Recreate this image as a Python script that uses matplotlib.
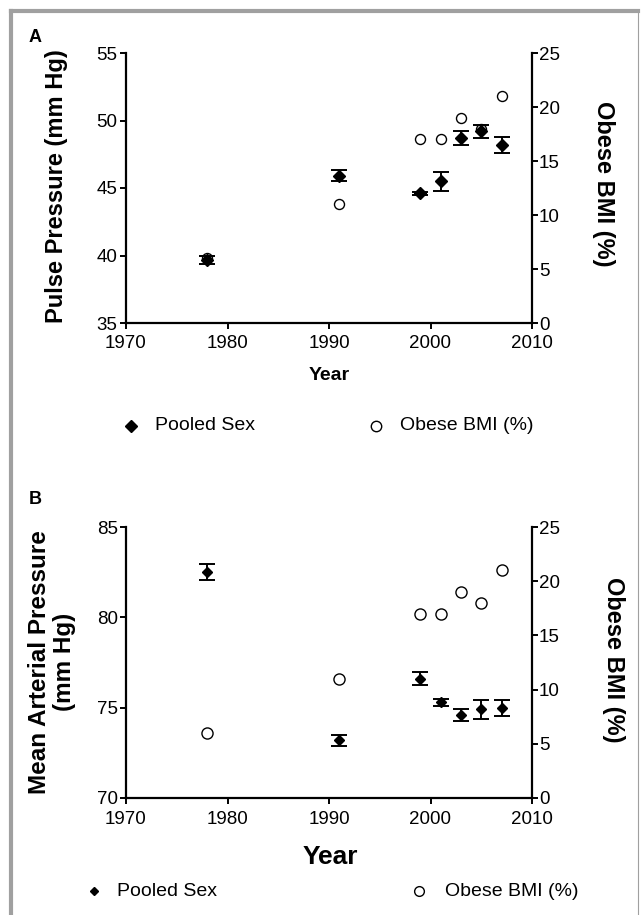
import numpy as np
import matplotlib
matplotlib.use("Agg")
from matplotlib import pyplot as plt
from matplotlib.lines import Line2D

plt.rcParams['font.family'] = ['Liberation Sans', 'DejaVu Sans']

# survey years
years = [1978, 1991, 1999, 2001, 2003, 2005, 2007]

# panel A: pulse pressure, pooled sex (mean, sem)
pp = [39.7, 45.9, 44.6, 45.5, 48.7, 49.2, 48.2]
pp_err = [0.3, 0.4, 0.1, 0.7, 0.55, 0.5, 0.6]

# panel B: mean arterial pressure, pooled sex (mean, sem)
map_ = [82.5, 73.2, 76.6, 75.3, 74.6, 74.9, 75.0]
map_err = [0.45, 0.3, 0.35, 0.2, 0.35, 0.5, 0.45]

# obese BMI prevalence (%)
obese = [6, 11, 17, 17, 19, 18, 21]

W, H = 641, 915
fig = plt.figure(figsize=(W / 100, H / 100), dpi=100)


def fx(px):
    return px / W


def fy(py):
    return 1 - py / H


def style(ax, side):
    for s in ['top', 'right', 'left', 'bottom']:
        ax.spines[s].set_visible(False)
    ax.spines[side].set_visible(True)
    ax.spines[side].set_linewidth(1.6)
    ax.tick_params(axis='y', direction='out', length=4, width=1.4,
                   labelsize=13.5, pad=2)


def panel(top, bottom, yvals, yerr, ylim, yticks, dsize, csize, cap):
    ax = fig.add_axes([fx(126), fy(bottom), fx(532) - fx(126), fy(top) - fy(bottom)])
    ax2 = ax.twinx()
    ax.set_zorder(ax2.get_zorder() + 1)
    ax.patch.set_visible(False)

    ax.errorbar(years, yvals, yerr=yerr, fmt='D', color='black', ms=dsize,
                elinewidth=1.4, capsize=cap, capthick=1.4, zorder=3)
    ax2.plot(years, obese, 'o', mfc='white', mec='black', mew=1.0, ms=csize)

    ax.set_xlim(1970, 2010)
    ax.set_ylim(*ylim)
    ax.set_yticks(yticks)
    ax2.set_ylim(0, 25)
    ax2.set_yticks([0, 5, 10, 15, 20, 25])
    ax.set_xticks([1970, 1980, 1990, 2000, 2010])

    style(ax, 'left')
    ax.spines['bottom'].set_visible(True)
    ax.spines['bottom'].set_linewidth(1.6)
    ax.tick_params(axis='x', direction='out', length=4, width=1.4,
                   labelsize=13.5, pad=5)
    style(ax2, 'right')
    ax2.tick_params(axis='y', pad=1)
    ax2.tick_params(axis='x', bottom=False, labelbottom=False)
    return ax, ax2


def legend_entry(x_handle, x_text, y, handle, label):
    fig.text(fx(x_text), fy(y), label, fontsize=14, ha='left', va='center')
    ln = Line2D([fx(x_handle)], [fy(y)], transform=fig.transFigure, **handle)
    fig.add_artist(ln)


diamond = dict(marker='D', color='black', linestyle='none')
circle = dict(marker='o', mfc='white', mec='black', mew=1.0, linestyle='none')

# ---- panel A ----
axA, axA2 = panel(53, 323, pp, pp_err, (35, 55), [35, 40, 45, 50, 55], 6.4, 7.2, 6)
fig.text(fx(35), fy(38), 'A', fontsize=13, fontweight='bold', ha='center', va='center')
fig.text(fx(56), fy(186), 'Pulse Pressure (mm Hg)', fontsize=17, fontweight='bold',
         rotation=90, ha='center', va='center')
fig.text(fx(604), fy(184), 'Obese BMI (%)', fontsize=17, fontweight='bold',
         rotation=270, ha='center', va='center')
fig.text(fx(329), fy(375), 'Year', fontsize=14, fontweight='bold', ha='center', va='center')
legend_entry(131, 155, 426, dict(diamond, ms=6.0), 'Pooled Sex')
legend_entry(376, 400, 426, dict(circle, ms=7.5), 'Obese BMI (%)')

# ---- panel B ----
axB, axB2 = panel(527, 798, map_, map_err, (70, 85), [70, 75, 80, 85], 4.6, 8, 6)
fig.text(fx(35), fy(499), 'B', fontsize=13, fontweight='bold', ha='center', va='center')
fig.text(fx(52), fy(662), 'Mean Arterial Pressure\n(mm Hg)', fontsize=17.5,
         fontweight='bold', rotation=90, ha='center', va='center',
         multialignment='center', linespacing=1.1)
fig.text(fx(614), fy(660), 'Obese BMI (%)', fontsize=17, fontweight='bold',
         rotation=270, ha='center', va='center')
fig.text(fx(330), fy(857), 'Year', fontsize=19, fontweight='bold', ha='center', va='center')
legend_entry(94, 117, 891, dict(diamond, ms=4.5), 'Pooled Sex')
legend_entry(419, 445, 891, dict(circle, ms=7), 'Obese BMI (%)')

# grey frame around the figure
grey = '#a0a0a0'
fig.add_artist(Line2D([fx(11), fx(638)], [fy(11), fy(11)], transform=fig.transFigure,
                      color=grey, lw=3))
fig.add_artist(Line2D([fx(11), fx(11)], [fy(11), 0], transform=fig.transFigure,
                      color=grey, lw=3))
fig.add_artist(Line2D([fx(638), fx(638)], [fy(11), 0], transform=fig.transFigure,
                      color=grey, lw=0.8))

fig.savefig('out.png', dpi=100)
